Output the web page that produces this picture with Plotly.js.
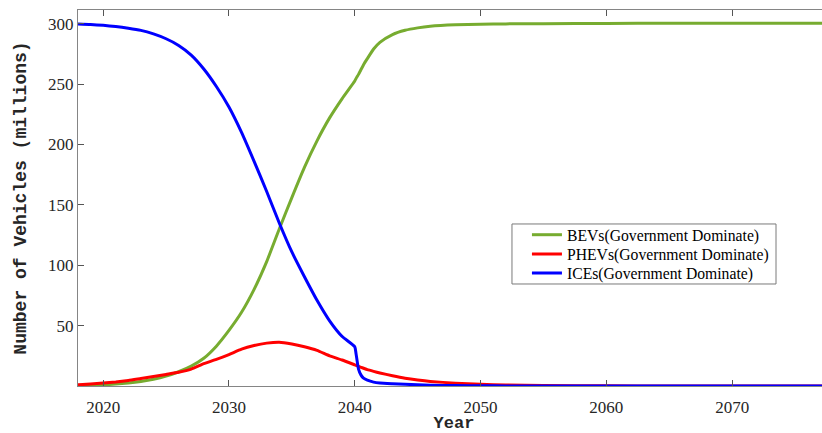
<!DOCTYPE html>
<html>
<head>
<meta charset="utf-8">
<script src="https://cdn.plot.ly/plotly-3.0.1.min.js"></script>
<style>
html,body{margin:0;padding:0;overflow:hidden;background:#fff;}
#chart{width:830px;height:433px;}
#chart .xtick text, #chart .ytick text{font-family:'Liberation Serif','Times New Roman',serif !important;}
</style>
</head>
<body>
<div id="chart"></div>
<script>
// Years (denser around the 2040 policy break)
const years = [2018,2019,2020,2021,2022,2023,2024,2025,2026,2027,2028,2029,2030,2031,2032,2033,2034,2035,2036,2037,2038,2039,2040,2040.1,2040.3,2040.5,2040.7,2041,2041.5,2042,2043,2044,2045,2046,2048,2050,2052,2055,2060,2065,2070,2078];

const bevValues = [0.3,0.6,1.0,1.6,2.5,3.8,5.6,8.2,11.8,16.5,23,33,46,61,80,103,130,156,181,203,222,238,252.5,254.5,258,262,266,271,279,284.5,291,294.5,296.5,297.8,299,299.5,299.8,300,300.2,300.3,300.3,300.4];

const phevValues = [1.0,1.6,2.5,3.4,4.6,6.2,7.8,9.6,11.4,14,18.5,22,26,30.5,33.5,35.5,36.3,34.8,32.5,29.5,25,21.5,17.5,17.1,16.3,15.5,14.7,13.5,12.1,10.8,8.5,6.5,5,3.8,2.3,1.4,0.9,0.5,0.15,0.05,0.02,0.01];

const iceValues = [299.7,299.3,298.6,297.6,296.2,294.4,291.5,287.5,282,274,262.5,248,231,210,186,161,135,111,90.5,71,54,41,32.5,27,14,9,6.5,4.8,3.2,2.5,1.9,1.4,1.0,0.7,0.35,0.15,0.08,0.04,0.01,0,0,0];

const seriesNames = ['BEVs(Government Dominate)','PHEVs(Government Dominate)','ICEs(Government Dominate)'];
const seriesColors = ['#77AC30','#FF0000','#0000FF'];

const xTicks = [2020,2030,2040,2050,2060,2070];
const yTicks = [50,100,150,200,250,300];

const serif = "Liberation Serif";
const mono = "Liberation Mono";
const legendIds = ['legend','legend2','legend3'];

const data = [bevValues, phevValues, iceValues].map((v,i)=>({
  x: years, y: v, type:'scatter', mode:'lines',
  name: seriesNames[i], legend: legendIds[i],
  line:{color: seriesColors[i], width:3, shape:'spline', smoothing:0.5}
}));

function axisBase(){
  return {
    showgrid:false, zeroline:false, showline:true, mirror:'ticks',
    linecolor:'#858585', linewidth:1, ticks:'inside', ticklen:6, tickcolor:'#555',
    tickfont:{family:serif, size:17, color:'#262626'}
  };
}
function legendAt(yc){
  return {
    x:0.597, y:yc, xanchor:'left', yanchor:'middle',
    bgcolor:'rgba(0,0,0,0)', borderwidth:0,
    font:{family:serif, size:15.7, color:'#000'}
  };
}

const layout = {
  width:830, height:433,
  margin:{l:78, r:0, t:10, b:47},
  font:{family:serif, color:'#262626'},
  paper_bgcolor:'#fff', plot_bgcolor:'#fff',
  showlegend:true,
  xaxis: Object.assign(axisBase(), {
    range:[2018, 2077.78], tickvals:xTicks, ticktext:xTicks.map(String),
    ticklabelstandoff:6,
    title:{text:'Year', standoff:0, font:{family:mono, size:17, color:'#262626', weight:'bold'}}
  }),
  yaxis: Object.assign(axisBase(), {
    range:[0, 311.3], tickvals:yTicks, ticktext:yTicks.map(String),
    title:{text:'Number of Vehicles (millions)', standoff:16, font:{family:mono, size:18, color:'#262626', weight:'bold'}}
  }),
  shapes:[{
    type:'rect', xref:'paper', yref:'paper',
    x0:0.5771, x1:0.9282, y0:0.2713, y1:0.4309,
    line:{color:'#7a7a7a', width:1}, fillcolor:'#fff', layer:'above'
  }],
  legend: legendAt(0.4016),
  legend2: legendAt(0.3503),
  legend3: legendAt(0.2997)
};

Plotly.newPlot('chart', data, layout, {displayModeBar:false, staticPlot:true});
</script>
</body>
</html>
